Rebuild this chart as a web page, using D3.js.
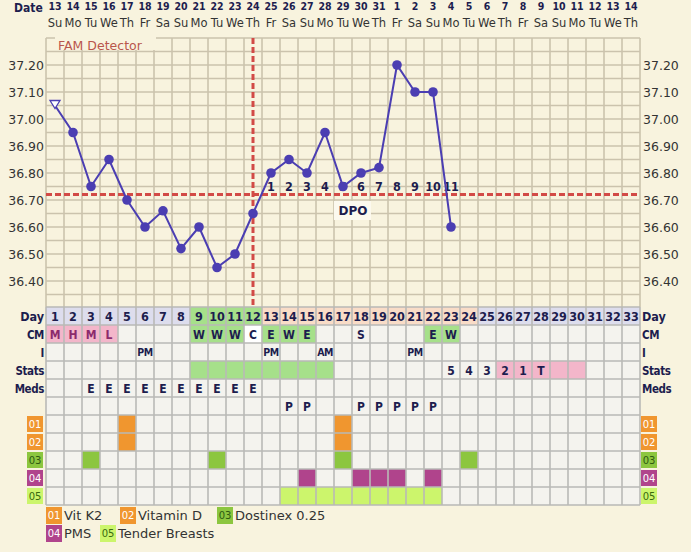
<!DOCTYPE html>
<html><head><meta charset="utf-8">
<script src="https://cdn.jsdelivr.net/npm/d3@7/dist/d3.min.js"></script>
<style>html,body{margin:0;padding:0;background:#f8f3de;}svg{display:block;}</style>
</head><body>
<svg id="c" width="691" height="552"></svg>
<script>
// ---------- DATA ----------
const days = d3.range(1, 34);
const dates = [13,14,15,16,17,18,19,20,21,22,23,24,25,26,27,28,29,30,31,1,2,3,4,5,6,7,8,9,10,11,12,13,14];
const weekdays = ["Su","Mo","Tu","We","Th","Fr","Sa","Su","Mo","Tu","We","Th","Fr","Sa","Su","Mo","Tu","We","Th","Fr","Sa","Su","Mo","Tu","We","Th","Fr","Sa","Su","Mo","Tu","We","Th"];
const temps = [37.05,36.95,36.75,36.85,36.70,36.60,36.66,36.52,36.60,36.45,36.50,36.65,36.80,36.85,36.80,36.95,36.75,36.80,36.82,37.20,37.10,37.10,36.60,null,null,null,null,null,null,null,null,null,null];
const tempTicks = [36.40,36.50,36.60,36.70,36.80,36.90,37.00,37.10,37.20];
const coverline = 36.72;
const ovulationDay = 12;
const dpoLabels = ["","","","","","","","","","","","","1","2","3","4","5","6","7","8","9","10","11"];
const dayPhase = ["a","a","a","a","a","a","a","a","g","g","g","g","p","p","p","p","p","p","p","p","p","p","p","p","a","a","a","a","a","a","a","a","a"];
const cmText = ["M","H","M","L","","","","","W","W","W","C","E","W","E","","","S","","","","E","W"];
const cmKind = ["pk","pk","pk","pk","","","","","g","g","g","w","g","g","g","","","","","","","g","g"];
const intercourse = {6:"PM",13:"PM",16:"AM",21:"PM"};
const statsText = {23:"5",24:"4",25:"3",26:"2",27:"1",28:"T"};
const statsGreen = [9,10,11,12,13,14,15,16];
const statsPink = [26,27,28,29,30];
const medsText = {3:"E",4:"E",5:"E",6:"E",7:"E",8:"E",9:"E",10:"E",11:"E",12:"E"};
const pDays = [14,15,18,19,20,21,22];
const symptomCodes = ["01","02","03","04","05"];
const symptomNames = ["Vit K2","Vitamin D","Dostinex 0.25","PMS","Tender Breasts"];
const symptomDays = [[5,17],[5,17],[3,10,17,24],[15,18,19,20,22],[14,15,16,17,18,19,20,21,22]];
const rowLabels = ["Day","CM","I","Stats","Meds","P","01","02","03","04","05"];

// ---------- STYLE ----------
const C = {
  bg:"#f8f3de", grid:"#cbc3ad", line:"#4b3eb2", red:"#d24a46",
  cell:"#f4f3ee", cellLine:"#b9b9b6", navy:"#1d1d4e",
  lav:"#dddded", green:"#a6e08a", peach:"#f9dcc7", pink:"#f3b6ca",
  sym:["#f0962f","#f0962f","#8cc63f","#b0448c","#ccf56c"],
  symText:["#fff","#fff","#2e5a12","#fff","#3a6a10"]
};
const font = "'DejaVu Sans', Verdana, sans-serif";
const fontC = "'DejaVu Sans Condensed', 'DejaVu Sans', sans-serif";

const svg = d3.select("#c");
const x = d3.scaleBand().domain(days).range([46, 640]);
const y = d3.scaleLinear().domain([36.30, 37.30]).range([308, 38]);
const r = d3.scaleBand().domain(rowLabels).range([307, 505]);
const bw = x.bandwidth(), rh = r.bandwidth();

svg.append("rect").attr("width",691).attr("height",552).attr("fill",C.bg);

// ---------- HEADER ----------
svg.append("text").attr("x",14).attr("y",12).text("Date")
  .attr("font-family",fontC).attr("font-weight","bold").attr("font-size",12).attr("fill",C.navy);
svg.selectAll(".dt").data(days).join("text")
  .attr("x",d=>x(d)+bw/2).attr("y",10).attr("text-anchor","middle")
  .attr("font-family",fontC).attr("font-weight","bold").attr("font-size",10.5).attr("fill",C.navy)
  .text((d,i)=>dates[i]);
svg.selectAll(".wd").data(days).join("text")
  .attr("x",d=>x(d)+bw/2).attr("y",27).attr("text-anchor","middle")
  .attr("font-family",font).attr("font-size",11.5).attr("fill","#333")
  .text((d,i)=>weekdays[i]);

// ---------- TEMP GRID ----------
const g = svg.append("g");
const hTicks = d3.range(0,21).map(k=>36.30+k*0.05);
g.selectAll(".hl").data(hTicks).join("line")
  .attr("x1",46).attr("x2",640).attr("y1",d=>y(d)).attr("y2",d=>y(d))
  .attr("stroke",C.grid).attr("stroke-width",1.6);
g.selectAll(".vl").data(d3.range(0,34)).join("line")
  .attr("x1",k=>46+k*bw).attr("x2",k=>46+k*bw).attr("y1",38).attr("y2",307)
  .attr("stroke",C.grid).attr("stroke-width",1.6);

// FAM Detector label
svg.append("rect").attr("x",55).attr("y",36).attr("width",101).attr("height",14).attr("fill",C.bg);
svg.append("text").attr("x",58).attr("y",50).text("FAM Detector")
  .attr("font-family",font).attr("font-size",12.5).attr("fill","#b8564c");

// Axis labels
const fmt = d3.format(".2f");
svg.selectAll(".tl").data(tempTicks).join("text")
  .attr("x",44).attr("y",d=>y(d)+5).attr("text-anchor","end")
  .attr("font-family",font).attr("font-size",12.5).attr("fill","#333").text(fmt);
svg.selectAll(".tr").data(tempTicks).join("text")
  .attr("x",643).attr("y",d=>y(d)+5)
  .attr("font-family",font).attr("font-size",12.5).attr("fill","#333").text(fmt);

// Coverline & ovulation line
svg.append("line").attr("x1",46).attr("x2",640).attr("y1",y(coverline)).attr("y2",y(coverline))
  .attr("stroke",C.red).attr("stroke-width",3).attr("stroke-dasharray","6,3");
svg.append("line").attr("x1",x(ovulationDay)+bw/2).attr("x2",x(ovulationDay)+bw/2).attr("y1",38).attr("y2",307)
  .attr("stroke",C.red).attr("stroke-width",3).attr("stroke-dasharray","6,3");

// DPO box
svg.append("rect").attr("x",334).attr("y",201).attr("width",37).attr("height",19).attr("fill","#fcf9ee");
svg.append("text").attr("x",353).attr("y",215).attr("text-anchor","middle").text("DPO")
  .attr("font-family",font).attr("font-weight","bold").attr("font-size",12).attr("fill",C.navy);

// DPO labels
svg.selectAll(".dpo").data(days.filter((d,i)=>dpoLabels[i])).join("text")
  .attr("x",d=>x(d)+bw/2).attr("y",191).attr("text-anchor","middle")
  .attr("font-family",fontC).attr("font-weight","bold").attr("font-size",12.5).attr("fill",C.navy)
  .text(d=>dpoLabels[d-1]);

// Temperature line
const pts = days.map((d,i)=>({d,t:temps[i]})).filter(p=>p.t!==null);
svg.append("path").datum(pts)
  .attr("d",d3.line().x(p=>x(p.d)+bw/2).y(p=>y(p.t)))
  .attr("fill","none").attr("stroke",C.line).attr("stroke-width",2);
svg.selectAll(".pt").data(pts.slice(1)).join("circle")
  .attr("cx",p=>x(p.d)+bw/2).attr("cy",p=>y(p.t)).attr("r",4.8).attr("fill",C.line);
const p0 = pts[0], px = x(p0.d)+bw/2, py = y(p0.t);
svg.append("path").attr("d",`M${px-5},${py-5}L${px+5},${py-5}L${px},${py+3}Z`)
  .attr("fill","#fff").attr("stroke",C.line).attr("stroke-width",1.3);

// ---------- TABLE ----------
const tbl = svg.append("g");
const cellFill = (row, d) => {
  const i = d-1;
  if (row==="Day") return dayPhase[i]==="g"?C.green:dayPhase[i]==="p"?C.peach:C.lav;
  if (row==="CM") return cmKind[i]==="pk"?C.pink:cmKind[i]==="g"?C.green:cmKind[i]==="w"?"#ffffff":C.cell;
  if (row==="Stats") return statsGreen.includes(d)?C.green:statsPink.includes(d)?C.pink:C.cell;
  const si = symptomCodes.indexOf(row);
  if (si>=0) return symptomDays[si].includes(d)?C.sym[si]:C.cell;
  return C.cell;
};
rowLabels.forEach(row=>{
  tbl.selectAll(null).data(days).join("rect")
    .attr("x",d=>x(d)).attr("y",r(row)).attr("width",bw).attr("height",rh)
    .attr("fill",d=>cellFill(row,d));
});
tbl.selectAll(".th").data(d3.range(0,12)).join("line")
  .attr("x1",46).attr("x2",640).attr("y1",k=>307+k*rh).attr("y2",k=>307+k*rh)
  .attr("stroke",C.cellLine).attr("stroke-width",1.6);
tbl.selectAll(".tv").data(d3.range(0,34)).join("line")
  .attr("x1",k=>46+k*bw).attr("x2",k=>46+k*bw).attr("y1",307).attr("y2",505)
  .attr("stroke",C.cellLine).attr("stroke-width",1.6);

const cellText = (row, fn, color) => {
  tbl.selectAll(null).data(days.filter(d=>fn(d))).join("text")
    .attr("x",d=>x(d)+bw/2).attr("y",r(row)+rh/2+4.5).attr("text-anchor","middle")
    .attr("font-family",fontC).attr("font-weight","bold").attr("font-size",row==="Day"?12.5:12)
    .attr("fill",typeof color==="function"?color:()=>color).text(d=>fn(d));
};
cellText("Day", d=>String(d), C.navy);
cellText("CM", d=>cmText[d-1]||"", d=>cmKind[d-1]==="pk"?"#8c2a6c":C.navy);
tbl.selectAll(null).data(Object.keys(intercourse).map(Number)).join("text")
  .attr("x",d=>x(d)+bw/2).attr("y",r("I")+rh/2+4).attr("text-anchor","middle")
  .attr("font-family",fontC).attr("font-weight","bold").attr("font-size",10.5).attr("fill",C.navy)
  .attr("letter-spacing",-0.5).text(d=>intercourse[d]);
cellText("Stats", d=>statsText[d]||"", C.navy);
cellText("Meds", d=>medsText[d]||"", C.navy);
cellText("P", d=>pDays.includes(d)?"P":"", C.navy);

// row labels
const lblRows = ["Day","CM","I","Stats","Meds"];
svg.selectAll(".rl").data(lblRows).join("text")
  .attr("x",44).attr("y",d=>r(d)+rh/2+4.5).attr("text-anchor","end")
  .attr("font-family",fontC).attr("font-weight","bold").attr("font-size",d=>d==="Day"?12.5:11.5)
  .attr("letter-spacing",d=>d==="Day"?0:-0.4).attr("fill",C.navy).text(d=>d);
svg.selectAll(".rr").data(lblRows).join("text")
  .attr("x",642).attr("y",d=>r(d)+rh/2+4.5)
  .attr("font-family",fontC).attr("font-weight","bold").attr("font-size",d=>d==="Day"?12.5:11.5)
  .attr("letter-spacing",d=>d==="Day"?0:-0.4).attr("fill",C.navy).text(d=>d);

// symptom badges both sides
symptomCodes.forEach((code,i)=>{
  [27,641].forEach(bx=>{
    svg.append("rect").attr("x",bx).attr("y",r(code)+1).attr("width",16).attr("height",16).attr("fill",C.sym[i]);
    svg.append("text").attr("x",bx+8).attr("y",r(code)+13).attr("text-anchor","middle")
      .attr("font-family",font).attr("font-size",10).attr("fill",C.symText[i]).text(code);
  });
});

// ---------- LEGEND ----------
const legendPos = [[46,515],[120,515],[217,515],[46,533],[100,533]];
symptomCodes.forEach((code,i)=>{
  const [lx,ly] = legendPos[i];
  svg.append("rect").attr("x",lx).attr("y",ly-8).attr("width",16).attr("height",17).attr("fill",C.sym[i]);
  svg.append("text").attr("x",lx+8).attr("y",ly+4).attr("text-anchor","middle")
    .attr("font-family",font).attr("font-size",10).attr("fill",C.symText[i]).text(code);
  svg.append("text").attr("x",lx+18).attr("y",ly+5)
    .attr("font-family",font).attr("font-size",13).attr("fill","#333").text(symptomNames[i]);
});
</script>
</body></html>
